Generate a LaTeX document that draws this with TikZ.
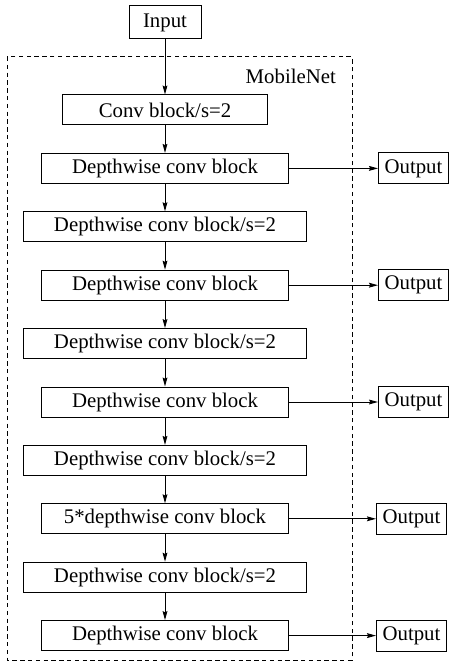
\documentclass[tikz,border=0pt]{standalone}
\usepackage{fontspec}
\setmainfont{Liberation Serif}
\usetikzlibrary{positioning,arrows.meta}
\begin{document}
\begin{tikzpicture}[
        blk/.style={draw, minimum height=15pt, inner sep=0pt, font=\rmfamily\fontsize{10.4pt}{12pt}\selectfont},
        convblk/.style={blk, minimum width=102.5pt},
        dwblk/.style={blk, minimum width=123.5pt},
        dwsblk/.style={blk, minimum width=141.5pt},
        outblk/.style={blk, minimum width=35pt, minimum height=15.5pt},
        arr/.style={-{Stealth[length=4.5pt,width=2.4pt,inset=0.6pt]}},
        node distance=13.7pt, line width=0.5pt]
        \useasboundingbox (0,0) rectangle (224.5pt,-331.5pt);
        % frame
        \draw[dash pattern=on 2.2pt off 1.7pt] (3.5pt,-28.5pt) rectangle (176pt,-330pt);
        \node[anchor=east, font=\rmfamily\fontsize{10.4pt}{12pt}\selectfont] (net) at (171.5pt,-38pt) {MobileNet};
        % main column
        \node[blk, minimum width=36pt, minimum height=16.5pt] (in) at (82.5pt,-11.25pt) {Input};
        \node[convblk, below=27.5pt of in] (c1) {Conv block/s=2};
        \node[dwblk, below=of c1] (d1) {Depthwise conv block};
        \node[dwsblk, below=of d1] (s1) {Depthwise conv block/s=2};
        \node[dwblk, below=of s1] (d2) {Depthwise conv block};
        \node[dwsblk, below=of d2] (s2) {Depthwise conv block/s=2};
        \node[dwblk, below=of s2] (d3) {Depthwise conv block};
        \node[dwsblk, below=of d3] (s3) {Depthwise conv block/s=2};
        \node[dwblk, below=of s3] (d4) {5*depthwise conv block};
        \node[dwsblk, below=of d4] (s4) {Depthwise conv block/s=2};
        \node[dwblk, below=of s4] (d5) {Depthwise conv block};
        % outputs
        \node[outblk, right=44.5pt of d1] (o1) {Output};
        \node[outblk, right=44.5pt of d2] (o2) {Output};
        \node[outblk, right=44.5pt of d3] (o3) {Output};
        \node[outblk, right=43.5pt of d4] (o4) {Output};
        \node[outblk, right=43.5pt of d5] (o5) {Output};
        \draw[arr] (in) -- (c1);
        \draw[arr] (c1) -- (d1);
        \draw[arr] (d1) -- (s1);
        \draw[arr] (s1) -- (d2);
        \draw[arr] (d2) -- (s2);
        \draw[arr] (s2) -- (d3);
        \draw[arr] (d3) -- (s3);
        \draw[arr] (s3) -- (d4);
        \draw[arr] (d4) -- (s4);
        \draw[arr] (s4) -- (d5);
        \draw[arr] (d1) -- (o1);
        \draw[arr] (d2) -- (o2);
        \draw[arr] (d3) -- (o3);
        \draw[arr] (d4) -- (o4);
        \draw[arr] (d5) -- (o5);
    \end{tikzpicture}
\end{document}
